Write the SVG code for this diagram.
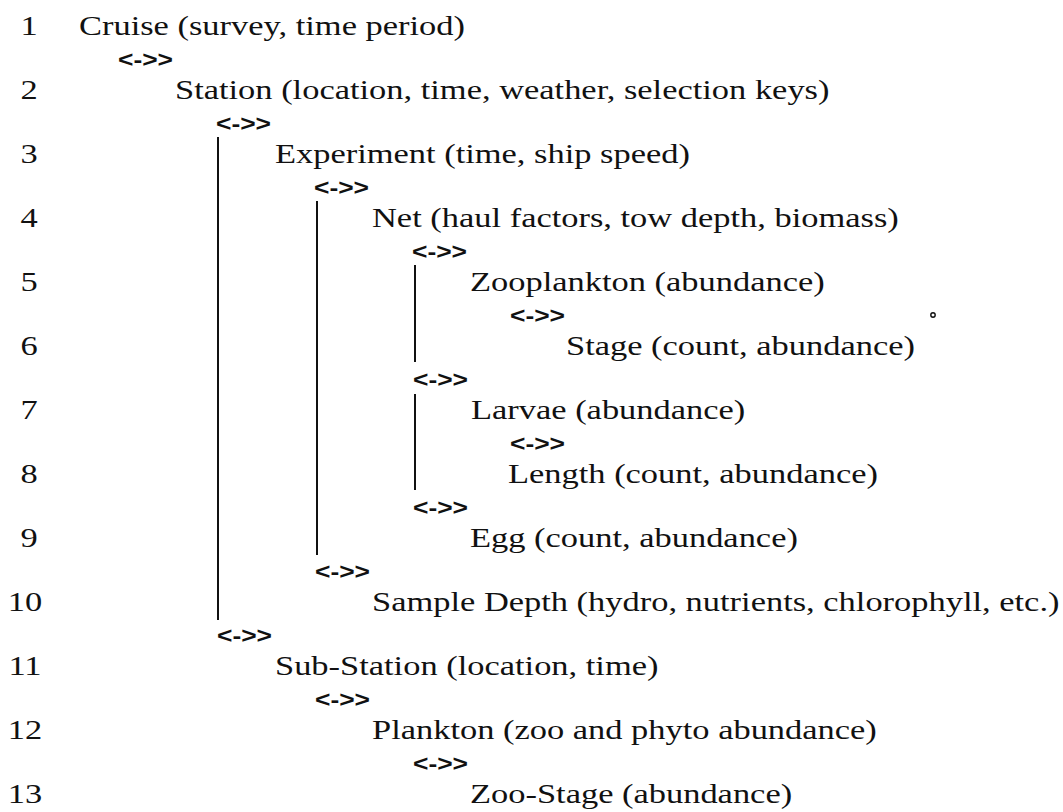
<svg xmlns="http://www.w3.org/2000/svg" width="1063" height="812" viewBox="0 0 1063 812">
<style>
.t{font-family:"Liberation Serif","Times New Roman",serif;font-size:28px;fill:#111}
.num{font-family:"Liberation Serif","Times New Roman",serif;font-size:28px;fill:#111;text-anchor:middle}
.arr{font-family:"Liberation Sans",Arial,sans-serif;font-size:22px;font-weight:bold;fill:#111}
.vl{stroke:#111;stroke-width:2;fill:none}
</style>
<rect width="1063" height="812" fill="#fff"/>
<g id="row-numbers">
<text class="num" transform="translate(29 35) scale(1.23 1)">1</text>
<text class="num" transform="translate(29 99) scale(1.23 1)">2</text>
<text class="num" transform="translate(29 163) scale(1.23 1)">3</text>
<text class="num" transform="translate(29 227) scale(1.23 1)">4</text>
<text class="num" transform="translate(29 291) scale(1.23 1)">5</text>
<text class="num" transform="translate(29 355) scale(1.23 1)">6</text>
<text class="num" transform="translate(29 419) scale(1.23 1)">7</text>
<text class="num" transform="translate(29 483) scale(1.23 1)">8</text>
<text class="num" transform="translate(29 547) scale(1.23 1)">9</text>
<text class="num" transform="translate(25 611) scale(1.23 1)">10</text>
<text class="num" transform="translate(25 675) scale(1.23 1)">11</text>
<text class="num" transform="translate(25 739) scale(1.23 1)">12</text>
<text class="num" transform="translate(25 803) scale(1.23 1)">13</text>
</g>
<g id="cruise"><text class="t" transform="translate(79 35) scale(1.23 1)">Cruise (survey, time period)</text></g>
<g id="station"><text class="t" transform="translate(175 99) scale(1.23 1)">Station (location, time, weather, selection keys)</text></g>
<g id="experiment"><text class="t" transform="translate(275 163) scale(1.23 1)">Experiment (time, ship speed)</text></g>
<g id="net"><text class="t" transform="translate(372 227) scale(1.23 1)">Net (haul factors, tow depth, biomass)</text></g>
<g id="zooplankton"><text class="t" transform="translate(470 291) scale(1.23 1)">Zooplankton (abundance)</text></g>
<g id="stage"><text class="t" transform="translate(566 355) scale(1.23 1)">Stage (count, abundance)</text></g>
<g id="larvae"><text class="t" transform="translate(471 419) scale(1.23 1)">Larvae (abundance)</text></g>
<g id="length"><text class="t" transform="translate(508 483) scale(1.23 1)">Length (count, abundance)</text></g>
<g id="egg"><text class="t" transform="translate(470 547) scale(1.23 1)">Egg (count, abundance)</text></g>
<g id="sample-depth"><text class="t" transform="translate(372 611) scale(1.23 1)">Sample Depth (hydro, nutrients, chlorophyll, etc.)</text></g>
<g id="sub-station"><text class="t" transform="translate(275 675) scale(1.23 1)">Sub-Station (location, time)</text></g>
<g id="plankton"><text class="t" transform="translate(372 739) scale(1.23 1)">Plankton (zoo and phyto abundance)</text></g>
<g id="zoo-stage"><text class="t" transform="translate(470 803) scale(1.23 1)">Zoo-Stage (abundance)</text></g>
<g id="connectors">
<text class="arr" transform="translate(118 66.5) scale(1.2 1)">&lt;-&gt;&gt;</text>
<text class="arr" transform="translate(216 130.5) scale(1.2 1)">&lt;-&gt;&gt;</text>
<text class="arr" transform="translate(314 194.5) scale(1.2 1)">&lt;-&gt;&gt;</text>
<text class="arr" transform="translate(412 258.5) scale(1.2 1)">&lt;-&gt;&gt;</text>
<text class="arr" transform="translate(510 322.5) scale(1.2 1)">&lt;-&gt;&gt;</text>
<text class="arr" transform="translate(413 386.5) scale(1.2 1)">&lt;-&gt;&gt;</text>
<text class="arr" transform="translate(510 450.5) scale(1.2 1)">&lt;-&gt;&gt;</text>
<text class="arr" transform="translate(413 514.5) scale(1.2 1)">&lt;-&gt;&gt;</text>
<text class="arr" transform="translate(315 578.5) scale(1.2 1)">&lt;-&gt;&gt;</text>
<text class="arr" transform="translate(217 642.5) scale(1.2 1)">&lt;-&gt;&gt;</text>
<text class="arr" transform="translate(315 706.5) scale(1.2 1)">&lt;-&gt;&gt;</text>
<text class="arr" transform="translate(413 770.5) scale(1.2 1)">&lt;-&gt;&gt;</text>
<line class="vl" x1="218" y1="137" x2="218" y2="620"/>
<line class="vl" x1="317" y1="201" x2="317" y2="555"/>
<line class="vl" x1="415" y1="265" x2="415" y2="362"/>
<line class="vl" x1="415" y1="394" x2="415" y2="490"/>
</g>
<circle cx="933" cy="315" r="2.2" fill="none" stroke="#111" stroke-width="1.4"/>
</svg>
